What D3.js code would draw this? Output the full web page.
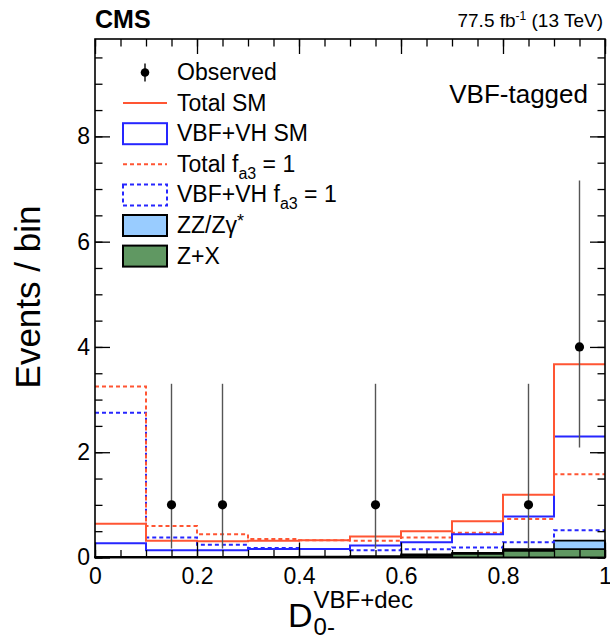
<!DOCTYPE html>
<html>
<head>
<meta charset="utf-8">
<script src="https://cdn.jsdelivr.net/npm/d3@7"></script>
<style>
  html, body { margin: 0; padding: 0; background: #fff; }
  svg { display: block; }
  text { font-family: "Liberation Sans", Arial, Helvetica, sans-serif; }
</style>
</head>
<body>
<svg id="chart" width="610" height="640"></svg>
<script>
// ---------------- data ----------------
const binEdges   = [0, 0.1, 0.2, 0.3, 0.4, 0.5, 0.6, 0.7, 0.8, 0.9, 1.0];
const totalSM    = [0.64, 0.32, 0.31, 0.32, 0.33, 0.40, 0.50, 0.69, 1.19, 3.67];
const vbfvhSM    = [0.27, 0.14, 0.14, 0.16, 0.16, 0.23, 0.29, 0.44, 0.78, 2.30];
const totalFa3   = [3.25, 0.60, 0.44, 0.35, 0.33, 0.32, 0.38, 0.47, 0.73, 1.58];
const vbfvhFa3   = [2.75, 0.38, 0.24, 0.18, 0.16, 0.14, 0.155, 0.19, 0.29, 0.52];
const zxBkg      = [0.005, 0.005, 0.005, 0.005, 0.008, 0.015, 0.035, 0.07, 0.13, 0.16];
const zzBkg      = [0.008, 0.008, 0.008, 0.01, 0.01, 0.012, 0.025, 0.02, 0.03, 0.16];
const obsX       = [0.15, 0.25, 0.55, 0.85, 0.95];
const obsN       = [1, 1, 1, 1, 4];
const obsLo      = [0.17, 0.17, 0.17, 0.17, 2.09];
const obsHi      = [3.30, 3.30, 3.30, 3.30, 7.16];
const xMajorTicks = [0, 0.2, 0.4, 0.6, 0.8, 1];
const xMinorTicks = d3.range(0, 1.0001, 0.05);
const yMajorTicks = [0, 2, 4, 6, 8];
const yMinorTicks = d3.range(0, 9.8, 0.5);

// ---------------- layout ----------------
const svg = d3.select("#chart");
const L = 95, R = 605, T = 39, B = 557.5;
const yMax = 9.85;
const x = d3.scaleLinear().domain([0, 1]).range([L, R]);
const y = d3.scaleLinear().domain([0, yMax]).range([B, T]);

const RED = "#ff5533", BLUE = "#2626ff", LBLUE = "#99ccff", GREEN = "#609862";
const FONT = "'Liberation Sans', Arial, Helvetica, sans-serif";

const stepPts = vals => binEdges.map((e, i) => [e, vals[Math.min(i, vals.length - 1)]]);
const stepLine = d3.line().x(d => x(d[0])).y(d => y(d[1])).curve(d3.curveStepAfter);

// ---------------- stacked backgrounds ----------------
const rows = binEdges.map((e, i) => {
  const k = Math.min(i, zxBkg.length - 1);
  return { edge: e, zx: zxBkg[k], zz: zzBkg[k] };
});
const stacked = d3.stack().keys(["zx", "zz"])(rows);
const area = d3.area().x(d => x(d.data.edge)).y0(d => y(d[0])).y1(d => y(d[1])).curve(d3.curveStepAfter);
const fills = { zx: GREEN, zz: LBLUE };
svg.append("g").selectAll("path").data(stacked).join("path")
  .attr("d", area)
  .attr("fill", d => fills[d.key])
  .attr("stroke", "#000")
  .attr("stroke-width", 1.6);

// ---------------- histograms ----------------
const hists = [
  { vals: vbfvhFa3, color: BLUE, dash: "4,3" },
  { vals: totalFa3, color: RED, dash: "4,3" },
  { vals: vbfvhSM, color: BLUE, dash: null },
  { vals: totalSM, color: RED, dash: null }
];
svg.append("g").selectAll("path").data(hists).join("path")
  .attr("d", d => stepLine(stepPts(d.vals)))
  .attr("fill", "none")
  .attr("stroke", d => d.color)
  .attr("stroke-width", 2)
  .attr("stroke-dasharray", d => d.dash);

// ---------------- observed ----------------
const obs = obsX.map((v, i) => ({ x: v, n: obsN[i], lo: obsLo[i], hi: obsHi[i] }));
const og = svg.append("g");
og.selectAll("line").data(obs).join("line")
  .attr("x1", d => x(d.x)).attr("x2", d => x(d.x))
  .attr("y1", d => y(d.lo)).attr("y2", d => y(d.hi))
  .attr("stroke", "#555").attr("stroke-width", 1.4);
og.selectAll("circle").data(obs).join("circle")
  .attr("cx", d => x(d.x)).attr("cy", d => y(d.n)).attr("r", 4.6)
  .attr("fill", "#000");

// ---------------- axes / frame ----------------
function noDomain(g) { g.select(".domain").remove(); g.selectAll("line").attr("stroke", "#000").attr("stroke-width", 1.3); }
const fmt = d => d3.format("~g")(d);

svg.append("g").attr("transform", `translate(0,${B})`)
  .call(d3.axisBottom(x).tickValues(xMinorTicks).tickSize(-7.5).tickFormat(""))
  .call(noDomain);
svg.append("g").attr("transform", `translate(0,${B})`)
  .call(d3.axisBottom(x).tickValues(xMajorTicks).tickSize(-15).tickPadding(10).tickFormat(fmt))
  .call(noDomain)
  .call(g => g.selectAll("text").attr("font-size", 23).attr("font-family", FONT).attr("fill", "#000").attr("dy", "0.71em"));
svg.append("g").attr("transform", `translate(0,${T})`)
  .call(d3.axisTop(x).tickValues(xMinorTicks).tickSize(-7.5).tickFormat(""))
  .call(noDomain);
svg.append("g").attr("transform", `translate(0,${T})`)
  .call(d3.axisTop(x).tickValues(xMajorTicks).tickSize(-15).tickFormat(""))
  .call(noDomain);

svg.append("g").attr("transform", `translate(${L},0)`)
  .call(d3.axisLeft(y).tickValues(yMinorTicks).tickSize(-7.5).tickFormat(""))
  .call(noDomain);
svg.append("g").attr("transform", `translate(${L},0)`)
  .call(d3.axisLeft(y).tickValues(yMajorTicks).tickSize(-15).tickPadding(5).tickFormat(fmt))
  .call(noDomain)
  .call(g => g.selectAll("text").attr("font-size", 23).attr("font-family", FONT).attr("fill", "#000"));
svg.append("g").attr("transform", `translate(${R},0)`)
  .call(d3.axisRight(y).tickValues(yMinorTicks).tickSize(-7.5).tickFormat(""))
  .call(noDomain);
svg.append("g").attr("transform", `translate(${R},0)`)
  .call(d3.axisRight(y).tickValues(yMajorTicks).tickSize(-15).tickFormat(""))
  .call(noDomain);

svg.append("rect").attr("x", L).attr("y", T).attr("width", R - L).attr("height", B - T)
  .attr("fill", "none").attr("stroke", "#000").attr("stroke-width", 1.6);

// ---------------- titles ----------------
svg.append("text").attr("x", 95).attr("y", 28).attr("font-size", 25).attr("font-weight", "bold")
  .attr("font-family", FONT).text("CMS");

const lumi = svg.append("text").attr("x", 603).attr("y", 27).attr("font-size", 19)
  .attr("font-family", FONT).attr("text-anchor", "end");
lumi.append("tspan").text("77.5 fb");
lumi.append("tspan").attr("font-size", 12).attr("dy", -7).text("-1");
lumi.append("tspan").attr("dy", 7).text(" (13 TeV)");

svg.append("text").attr("x", 588).attr("y", 103).attr("font-size", 26).attr("font-family", FONT)
  .attr("text-anchor", "end").text("VBF-tagged");

svg.append("text").attr("transform", "translate(40,297) rotate(-90)")
  .attr("font-size", 35).attr("font-family", FONT).attr("text-anchor", "middle").text("Events / bin");

// x title: D with sub/superscripts
const xt = svg.append("g");
const dT = xt.append("text").attr("y", 627).attr("font-size", 34).attr("font-family", FONT).text("D");
const supT = xt.append("text").attr("y", 608).attr("font-size", 24).attr("font-family", FONT).text("VBF+dec");
const subT = xt.append("text").attr("y", 635).attr("font-size", 24).attr("font-family", FONT).text("0-");
const wD = dT.node().getComputedTextLength();
const wS = Math.max(supT.node().getComputedTextLength(), subT.node().getComputedTextLength());
const x0 = (L + R) / 2 - (wD + wS) / 2;
dT.attr("x", x0);
supT.attr("x", x0 + wD + 1);
subT.attr("x", x0 + wD + 1);

// ---------------- legend ----------------
const legItems = [
  { type: "obs", label: ["Observed"] },
  { type: "line", color: RED, dash: null, label: ["Total SM"] },
  { type: "box", color: BLUE, dash: null, fill: "none", label: ["VBF+VH SM"] },
  { type: "line", color: RED, dash: "4,3", label: ["Total f", "a3", " = 1"] },
  { type: "box", color: BLUE, dash: "4,3", fill: "none", label: ["VBF+VH f", "a3", " = 1"] },
  { type: "fill", color: "#000", fill: LBLUE, label: ["ZZ/Zγ", "*"] },
  { type: "fill", color: "#000", fill: GREEN, label: ["Z+X"] }
];
const leg = svg.append("g");
const lx0 = 123, lx1 = 167, ltx = 177, lb0 = 80, lstep = 30.6;
legItems.forEach((it, i) => {
  const base = lb0 + i * lstep;
  const cy = base - 7.5;
  if (it.type === "obs") {
    leg.append("line").attr("x1", 145).attr("x2", 145).attr("y1", cy - 9).attr("y2", cy + 9)
      .attr("stroke", "#000").attr("stroke-width", 1.4);
    leg.append("circle").attr("cx", 145).attr("cy", cy).attr("r", 4.3).attr("fill", "#000");
  } else if (it.type === "line") {
    leg.append("line").attr("x1", lx0).attr("x2", lx1).attr("y1", cy).attr("y2", cy)
      .attr("stroke", it.color).attr("stroke-width", 2).attr("stroke-dasharray", it.dash);
  } else {
    leg.append("rect").attr("x", lx0).attr("y", cy - 10.5).attr("width", lx1 - lx0).attr("height", 21)
      .attr("fill", it.fill).attr("stroke", it.color).attr("stroke-width", 2)
      .attr("stroke-dasharray", it.dash);
  }
  const t = leg.append("text").attr("x", ltx).attr("y", base).attr("font-size", 23).attr("font-family", FONT);
  t.append("tspan").text(it.label[0]);
  if (it.label.length > 1) {
    if (it.label[1] === "*") {
      t.append("tspan").attr("font-size", 18).attr("dy", -6).text("*");
    } else {
      t.append("tspan").attr("font-size", 16).attr("dy", 7).text(it.label[1]);
      t.append("tspan").attr("dy", -7).text(it.label[2]);
    }
  }
});
</script>
</body>
</html>
